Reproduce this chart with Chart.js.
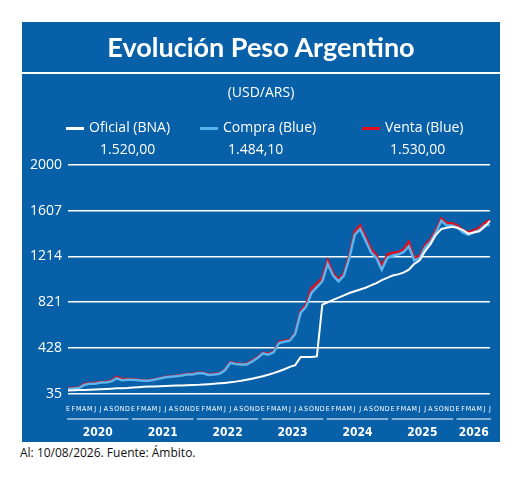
<!DOCTYPE html>
<html>
<head>
<meta charset="utf-8">
<script src="https://cdn.jsdelivr.net/npm/chart.js@4"></script>
<style>
  body { margin: 0; background: #fff; font-family: "Open Sans", sans-serif; }
  #box { position: absolute; left: 22px; top: 22px; width: 478px; height: 420px; background: #0860a8; }
  #chart { position: absolute; left: 0; top: 0; }
  .t { position: absolute; color: #fff; white-space: nowrap; }
  #title { left: 0; width: 478px; top: 8px; text-align: center; font: bold 27px Lato, sans-serif; }
  #rule { position: absolute; left: 0; width: 478px; top: 50px; height: 2px; background: #fff; }
  #sub { left: 0; width: 478px; top: 60px; text-align: center; font-size: 14px; }
  .lg { top: 95px; font-size: 14px; }
  .val { top: 117px; font-size: 14px; }
  .sw { display: inline-block; width: 18px; height: 3px; vertical-align: middle; margin-right: 5px; }
  #foot { position: absolute; left: 20px; top: 444px; font-size: 12px; color: #111; }
</style>
</head>
<body>
<div id="box">
  <canvas id="chart" width="478" height="420"></canvas>
  <div class="t" id="title">Evolución Peso Argentino</div>
  <div id="rule"></div>
  <div class="t" id="sub">(USD/ARS)</div>
  <div class="t lg" style="left:44px"><span class="sw" style="background:#fff"></span>Oficial (BNA)</div>
  <div class="t lg" style="left:178px"><span class="sw" style="background:#5ab4ee"></span>Compra (Blue)</div>
  <div class="t lg" style="left:340px"><span class="sw" style="background:#e0101e"></span>Venta (Blue)</div>
  <div class="t val" style="left:78px">1.520,00</div>
  <div class="t val" style="left:206px">1.484,10</div>
  <div class="t val" style="left:368px">1.530,00</div>
</div>
<div id="foot">Al: 10/08/2026. Fuente: Ámbito.</div>
<script>
const monthLetters = ["E","F","M","A","M","J","J","A","S","O","N","D"];
const years = ["2020","2021","2022","2023","2024","2025","2026"];
const yTicks = [35, 428, 821, 1214, 1607, 2000];

const oficial = [
  61,63,65,67,69,71,73,75,77,80,82,84,
  88,90,93,95,97,99,101,103,104,105,107,108,
  110,113,116,120,123,127,132,138,145,154,163,173,
  184,197,211,227,244,265,280,350,350,350,355,800,
  820,840,860,880,900,915,930,945,965,985,1010,1030,
  1050,1060,1075,1100,1150,1180,1260,1320,1400,1450,1460,1470,
  1460,1440,1410,1420,1430,1470,1520
];
const compra = [
  75,78,83,110,120,120,130,130,140,165,150,155,
  155,150,145,145,155,165,175,180,185,190,200,200,
  210,210,195,200,205,235,300,290,285,285,310,340,
  380,370,390,470,480,490,550,730,780,900,950,1000,
  1150,1050,1000,1050,1200,1400,1450,1350,1250,1200,1100,1200,
  1220,1230,1250,1300,1180,1200,1290,1340,1420,1520,1480,1480,
  1460,1420,1400,1420,1440,1480,1484
];
const venta = [
  80,84,88,118,125,128,135,137,145,178,160,160,
  158,155,148,150,158,168,180,183,188,195,204,205,
  215,215,200,205,210,240,305,295,290,290,318,348,
  385,378,395,480,490,495,555,745,800,940,980,1030,
  1180,1070,1015,1070,1225,1430,1480,1380,1280,1225,1130,1230,
  1245,1250,1275,1340,1200,1220,1310,1360,1440,1540,1500,1500,
  1480,1440,1420,1440,1460,1500,1530
];

const labels = oficial.map((_, i) => monthLetters[i % 12]);

// year labels and separator lines under the month letters
const yearPlugin = {
  id: "years",
  afterDraw(chart) {
    const { ctx, scales: { x } } = chart;
    ctx.save();
    ctx.strokeStyle = "#fff";
    ctx.fillStyle = "#fff";
    ctx.lineWidth = 1;
    ctx.font = "bold 12px 'DejaVu Sans Condensed', sans-serif";
    ctx.textAlign = "center";
    years.forEach((yr, k) => {
      const i0 = k * 12;
      const i1 = Math.min(i0 + 11, labels.length - 1);
      const a = x.getPixelForValue(i0) - 1;
      const b = x.getPixelForValue(i1) + 1;
      ctx.beginPath();
      ctx.moveTo(a, 397);
      ctx.lineTo(b, 397);
      ctx.stroke();
      ctx.fillText(yr, (a + b) / 2, 414);
    });
    ctx.restore();
  }
};

new Chart(document.getElementById("chart"), {
  type: "line",
  data: {
    labels: labels,
    datasets: [
      { label: "Oficial (BNA)", data: oficial, borderColor: "#ffffff", borderWidth: 2, order: 1 },
      { label: "Compra (Blue)", data: compra, borderColor: "#5ab4ee", borderWidth: 2.5, order: 2 },
      { label: "Venta (Blue)", data: venta, borderColor: "#e0101e", borderWidth: 2.5, order: 3 }
    ]
  },
  options: {
    responsive: false,
    animation: false,
    layout: { padding: { left: 2, right: 10, top: 143, bottom: 26 } },
    elements: { point: { radius: 0 }, line: { tension: 0 } },
    scales: {
      x: {
        offset: false,
        grid: { display: false },
        border: { display: false },
        ticks: {
          color: "#fff", autoSkip: false, maxRotation: 0, minRotation: 0, padding: 3,
          font: { size: 7, family: "'DejaVu Sans Condensed', sans-serif" }
        }
      },
      y: {
        min: 35, max: 2000,
        afterBuildTicks: (s) => { s.ticks = yTicks.map((v) => ({ value: v })); },
        grid: { color: "#ffffff", lineWidth: 1.5, drawTicks: false },
        border: { display: false },
        ticks: {
          color: "#fff", padding: 6, callback: (v) => String(v),
          font: { size: 14, family: "'Open Sans', sans-serif" }
        }
      }
    },
    plugins: { legend: { display: false }, tooltip: { enabled: false } }
  },
  plugins: [yearPlugin]
});
</script>
</body>
</html>
